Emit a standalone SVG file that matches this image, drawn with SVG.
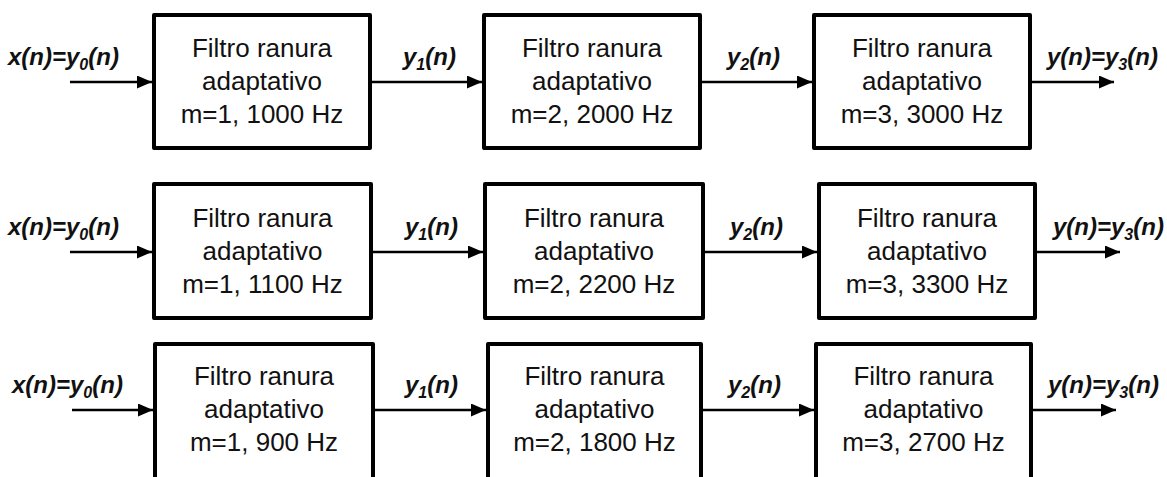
<svg xmlns="http://www.w3.org/2000/svg" width="1167" height="477" viewBox="0 0 1167 477">
  <style>
    .box { fill: #ffffff; stroke: #000000; stroke-width: 4; stroke-linejoin: round; }
    .bt { font-family: "Liberation Sans", Arial, sans-serif; font-size: 26px; fill: #111111; text-anchor: middle; }
    .lbl { font-family: "Liberation Sans", Arial, sans-serif; font-size: 24px; font-style: italic; font-weight: bold; fill: #111111; }
    .sub { font-size: 16px; }
    .wire { stroke: #000000; stroke-width: 2.5; fill: none; marker-end: url(#arr); }
  </style>
  <defs>
    <marker id="arr" markerUnits="userSpaceOnUse" markerWidth="16" markerHeight="14" refX="15" refY="6.5" orient="auto">
      <path d="M0,0 L15,6.5 L0,13 Z" fill="#000000"/>
    </marker>
  </defs>
  <rect width="1167" height="477" fill="#ffffff"/>

  <!-- Row 1 -->
  <g id="r1b1"><rect class="box" x="154" y="15" width="216" height="133"/>
    <text class="bt" x="262" y="57">Filtro ranura</text><text class="bt" x="262" y="90">adaptativo</text><text class="bt" x="262" y="123">m=1, 1000 Hz</text></g>
  <g id="r1b2"><rect class="box" x="484" y="15" width="216" height="133"/>
    <text class="bt" x="592" y="57">Filtro ranura</text><text class="bt" x="592" y="90">adaptativo</text><text class="bt" x="592" y="123">m=2, 2000 Hz</text></g>
  <g id="r1b3"><rect class="box" x="814" y="15" width="216" height="133"/>
    <text class="bt" x="922" y="57">Filtro ranura</text><text class="bt" x="922" y="90">adaptativo</text><text class="bt" x="922" y="123">m=3, 3000 Hz</text></g>

  <!-- Row 2 -->
  <g id="r2b1"><rect class="box" x="154" y="184" width="217" height="134"/>
    <text class="bt" x="262.5" y="227">Filtro ranura</text><text class="bt" x="262.5" y="260">adaptativo</text><text class="bt" x="262.5" y="293">m=1, 1100 Hz</text></g>
  <g id="r2b2"><rect class="box" x="485" y="184" width="218" height="134"/>
    <text class="bt" x="594" y="227">Filtro ranura</text><text class="bt" x="594" y="260">adaptativo</text><text class="bt" x="594" y="293">m=2, 2200 Hz</text></g>
  <g id="r2b3"><rect class="box" x="819" y="184" width="216" height="134"/>
    <text class="bt" x="927" y="227">Filtro ranura</text><text class="bt" x="927" y="260">adaptativo</text><text class="bt" x="927" y="293">m=3, 3300 Hz</text></g>

  <!-- Row 3 -->
  <g id="r3b1"><rect class="box" x="155" y="344" width="218" height="150"/>
    <text class="bt" x="264" y="385">Filtro ranura</text><text class="bt" x="264" y="418">adaptativo</text><text class="bt" x="264" y="451">m=1, 900 Hz</text></g>
  <g id="r3b2"><rect class="box" x="488" y="344" width="213" height="150"/>
    <text class="bt" x="594.5" y="385">Filtro ranura</text><text class="bt" x="594.5" y="418">adaptativo</text><text class="bt" x="594.5" y="451">m=2, 1800 Hz</text></g>
  <g id="r3b3"><rect class="box" x="816" y="344" width="215" height="150"/>
    <text class="bt" x="923.5" y="385">Filtro ranura</text><text class="bt" x="923.5" y="418">adaptativo</text><text class="bt" x="923.5" y="451">m=3, 2700 Hz</text></g>

  <!-- Connectors -->
  <g id="connectors">
    <line class="wire" x1="70" y1="82" x2="152" y2="82"/>
    <line class="wire" x1="372" y1="82" x2="482" y2="82"/>
    <line class="wire" x1="702" y1="82" x2="812" y2="82"/>
    <line class="wire" x1="1032" y1="82" x2="1114" y2="82"/>

    <line class="wire" x1="70" y1="252" x2="152" y2="252"/>
    <line class="wire" x1="373" y1="252" x2="483" y2="252"/>
    <line class="wire" x1="705" y1="252" x2="817" y2="252"/>
    <line class="wire" x1="1037" y1="252" x2="1120" y2="252"/>

    <line class="wire" x1="72" y1="410" x2="153" y2="410"/>
    <line class="wire" x1="375" y1="410" x2="486" y2="410"/>
    <line class="wire" x1="703" y1="410" x2="814" y2="410"/>
    <line class="wire" x1="1033" y1="410" x2="1116" y2="410"/>
  </g>

  <!-- Signal labels -->
  <g id="labels">
    <text class="lbl" x="8" y="65">x(n)=y<tspan class="sub" dy="5">0</tspan><tspan dy="-5">(n)</tspan></text>
    <text class="lbl" x="403" y="65">y<tspan class="sub" dy="5">1</tspan><tspan dy="-5">(n)</tspan></text>
    <text class="lbl" x="727" y="65">y<tspan class="sub" dy="5">2</tspan><tspan dy="-5">(n)</tspan></text>
    <text class="lbl" x="1047" y="65">y(n)=y<tspan class="sub" dy="5">3</tspan><tspan dy="-5">(n)</tspan></text>

    <text class="lbl" x="8" y="235">x(n)=y<tspan class="sub" dy="5">0</tspan><tspan dy="-5">(n)</tspan></text>
    <text class="lbl" x="405" y="235">y<tspan class="sub" dy="5">1</tspan><tspan dy="-5">(n)</tspan></text>
    <text class="lbl" x="730" y="235">y<tspan class="sub" dy="5">2</tspan><tspan dy="-5">(n)</tspan></text>
    <text class="lbl" x="1053" y="235">y(n)=y<tspan class="sub" dy="5">3</tspan><tspan dy="-5">(n)</tspan></text>

    <text class="lbl" x="12" y="393">x(n)=y<tspan class="sub" dy="5">0</tspan><tspan dy="-5">(n)</tspan></text>
    <text class="lbl" x="405" y="393">y<tspan class="sub" dy="5">1</tspan><tspan dy="-5">(n)</tspan></text>
    <text class="lbl" x="728" y="393">y<tspan class="sub" dy="5">2</tspan><tspan dy="-5">(n)</tspan></text>
    <text class="lbl" x="1048" y="393">y(n)=y<tspan class="sub" dy="5">3</tspan><tspan dy="-5">(n)</tspan></text>
  </g>
</svg>
